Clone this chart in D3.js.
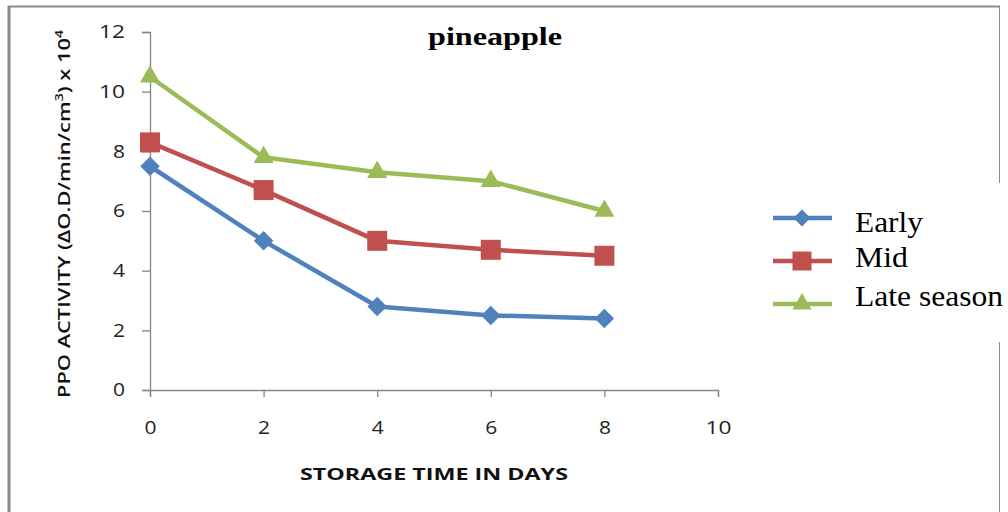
<!DOCTYPE html>
<html><head><meta charset="utf-8">
<script src="https://cdn.jsdelivr.net/npm/d3@7"></script>
<style>body{margin:0;background:#fff}svg{display:block}</style>
</head><body>
<svg id="c" width="1008" height="512"></svg>
<script>
const days = [0, 2, 4, 6, 8];
const early = [7.5, 5.0, 2.8, 2.5, 2.4];
const mid = [8.3, 6.7, 5.0, 4.7, 4.5];
const late = [10.5, 7.8, 7.3, 7.0, 6.0];
const seriesNames = ["Early", "Mid", "Late season"];
const xTicks = [0, 2, 4, 6, 8, 10];
const yTicks = [0, 2, 4, 6, 8, 10, 12];

const svg = d3.select("#c");
// outer frame
svg.append("line").attr("x1",9).attr("x2",9).attr("y1",6).attr("y2",512).attr("stroke","#8a8a8a").attr("stroke-width",3);
svg.append("line").attr("x1",8).attr("x2",1000).attr("y1",6.5).attr("y2",6.5).attr("stroke","#8a8a8a").attr("stroke-width",2);
svg.append("line").attr("x1",999.5).attr("x2",999.5).attr("y1",6).attr("y2",183).attr("stroke","#8a8a8a").attr("stroke-width",1);
svg.append("line").attr("x1",999.5).attr("x2",999.5).attr("y1",342).attr("y2",512).attr("stroke","#8a8a8a").attr("stroke-width",1);

const x = d3.scaleLinear().domain([0,10]).range([150,718]);
const y = d3.scaleLinear().domain([0,12]).range([390,32]);

const axisColor = "#868686";
const gx = svg.append("g").attr("transform","translate(0,390)")
  .call(d3.axisBottom(x).tickValues(xTicks).tickSize(7).tickPadding(24).tickFormat(d3.format("d")));
const gy = svg.append("g").attr("transform","translate(150,0)")
  .call(d3.axisLeft(y).tickValues(yTicks).tickSize(8).tickPadding(17).tickFormat(d3.format("d")));
[gx, gy].forEach(g => {
  g.select(".domain").attr("stroke", axisColor).attr("stroke-width",1.3);
  g.selectAll(".tick line").attr("stroke", axisColor).attr("stroke-width",1.3);
  g.selectAll(".tick text").attr("fill","#222").style("font-family","'Open Sans', sans-serif").style("font-size","18px")
    .attr("textLength", d => String(d).length > 1 ? 26 : 12).attr("lengthAdjust","spacingAndGlyphs");
});
gx.selectAll(".tick text").attr("dy","0.71em");

// titles
svg.append("text").attr("x",495).attr("y",45).attr("text-anchor","middle")
  .style("font-family","'Liberation Serif', serif").style("font-weight","bold").style("font-size","25px")
  .attr("textLength",134).attr("lengthAdjust","spacingAndGlyphs").text("pineapple");
svg.append("text").attr("x",434).attr("y",480).attr("text-anchor","middle")
  .style("font-family","'Open Sans', sans-serif").style("font-weight","bold").style("font-size","16.5px").attr("fill","#111")
  .attr("textLength",268).attr("lengthAdjust","spacingAndGlyphs")
  .text("STORAGE TIME IN DAYS");
const yl = svg.append("text").attr("transform","translate(70,214) rotate(-90)").attr("text-anchor","middle")
  .style("font-family","'Open Sans', sans-serif").style("font-size","17px").style("font-weight","600").attr("fill","#111")
  .attr("textLength",368).attr("lengthAdjust","spacingAndGlyphs");
yl.append("tspan").text("PPO  ACTIVITY (ΔO.D/min/cm");
yl.append("tspan").attr("dy","-7").style("font-size","11px").text("3");
yl.append("tspan").attr("dy","7").text(") x 10");
yl.append("tspan").attr("dy","-7").style("font-size","11px").text("4");

const diamond = d3.symbol().type(d3.symbolSquare).size(190);
const data = [
  {name: seriesNames[0], vals: early, color: "#4F81BD", sym: d3.symbolSquare, size: 190, rot: 45},
  {name: seriesNames[1], vals: mid, color: "#C0504D", sym: d3.symbolSquare, size: 400, rot: 0},
  {name: seriesNames[2], vals: late, color: "#9BBB59", sym: d3.symbolTriangle, size: 175, rot: 0}
];
const line = d3.line().x((d,i)=>x(days[i])).y(d=>y(d));
data.forEach(s => {
  svg.append("path").datum(s.vals).attr("d", line).attr("fill","none").attr("stroke", s.color).attr("stroke-width",4.5).attr("stroke-linejoin","round");
  svg.selectAll(null).data(s.vals).enter().append("path")
    .attr("d", d3.symbol().type(s.sym).size(s.size))
    .attr("transform",(d,i)=>`translate(${x(days[i])},${y(d)}) rotate(${s.rot})`)
    .attr("fill", s.color);
});

// legend
const ly = [218, 261, 304];
const tyOff = [14, 6, 2];
const tLen = [68, 53, 148];
data.forEach((s,i) => {
  const g = svg.append("g").attr("transform",`translate(0,${ly[i]})`);
  g.append("line").attr("x1",773).attr("x2",832).attr("y1",0).attr("y2",0).attr("stroke",s.color).attr("stroke-width",4.5);
  g.append("path").attr("d", d3.symbol().type(s.sym).size(s.size*(i===0?0.75:0.9))).attr("transform",`translate(802,0) rotate(${s.rot})`).attr("fill",s.color);
  g.append("text").attr("x",855).attr("y",tyOff[i]).style("font-family","'Liberation Serif', serif").style("font-size","29px").attr("fill","#000")
    .attr("textLength",tLen[i]).attr("lengthAdjust","spacingAndGlyphs").text(s.name);
});
</script>
</body></html>
